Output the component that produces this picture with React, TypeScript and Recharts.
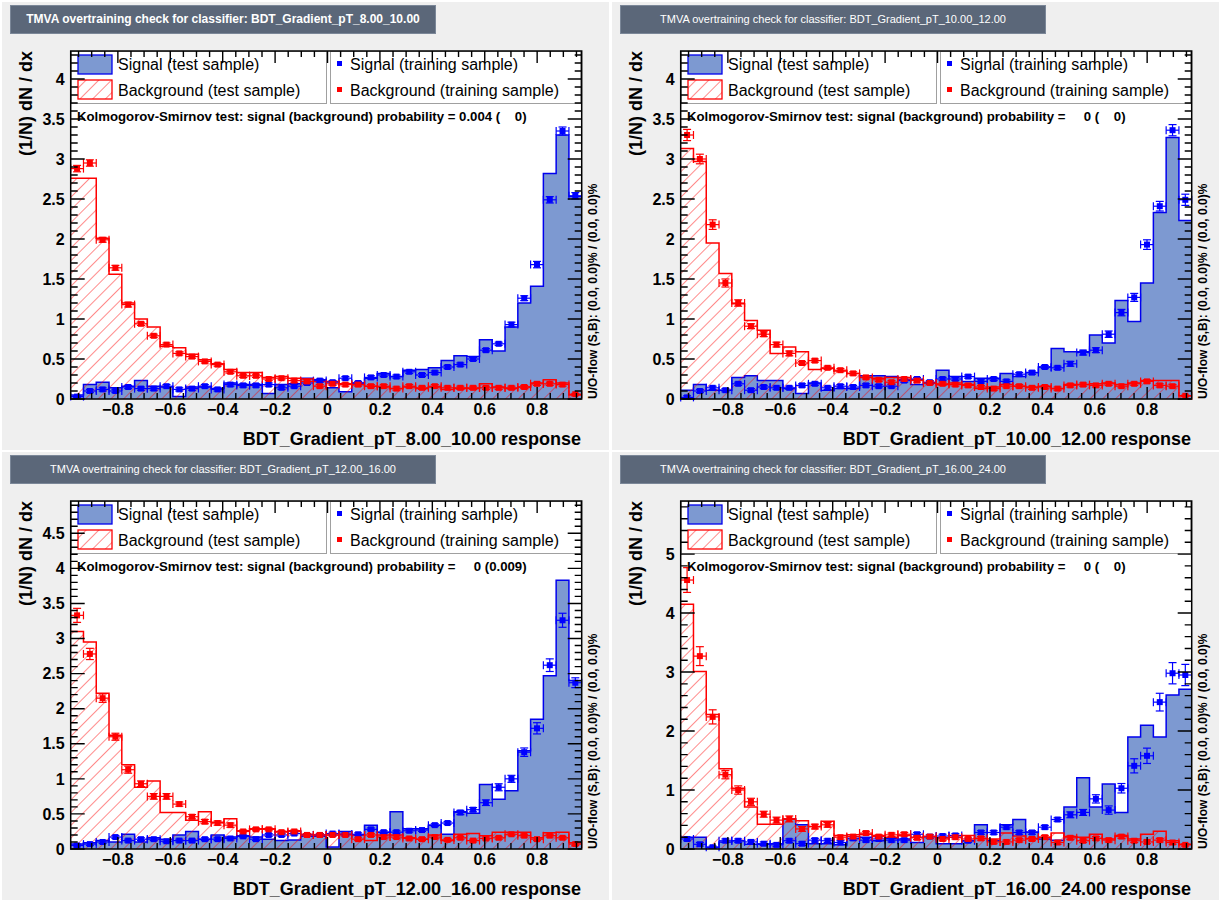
import { Area, ComposedChart, ErrorBar, Scatter, XAxis, YAxis } from "recharts";

const FONT = "'Liberation Sans', Arial, Helvetica, sans-serif";

// binning of the classifier response
const BIN_LO = -0.98;
const BIN_HI = 0.97;
const N_BINS = 40;

const X_MAJOR = [-0.8, -0.6, -0.4, -0.2, 0, 0.2, 0.4, 0.6, 0.8];
const X_MINOR_STEP = 0.05;

const names = ["BDT_Gradient_pT_8.00_10.00", "BDT_Gradient_pT_10.00_12.00", "BDT_Gradient_pT_12.00_16.00", "BDT_Gradient_pT_16.00_24.00"];
const ksProb = ["0.004 (    0)", "    0 (    0)", "    0 (0.009)", "    0 (    0)"];
const yMaxes = [4.35, 4.35, 4.96, 5.9];
const yMajorSteps = [0.5, 0.5, 0.5, 1];
const yMinorSteps = [0.1, 0.1, 0.1, 0.2];

// pT 8-10
const sigTest1 = [0.05, 0.18, 0.21, 0.14, 0.16, 0.23, 0.16, 0.15, 0.03, 0.15, 0.15, 0.13, 0.2, 0.18, 0.18, 0.07, 0.18, 0.19, 0.26, 0.24, 0.14, 0.09, 0.2, 0.26, 0.32, 0.28, 0.36, 0.37, 0.39, 0.48, 0.54, 0.53, 0.74, 0.6, 0.9, 1.2, 1.41, 2.82, 3.3, 2.53];
const bkgTest1 = [2.76, 2.76, 2.01, 1.56, 1.2, 1.0, 0.9, 0.66, 0.64, 0.56, 0.49, 0.44, 0.37, 0.33, 0.33, 0.27, 0.28, 0.26, 0.25, 0.22, 0.22, 0.19, 0.18, 0.16, 0.15, 0.13, 0.15, 0.13, 0.15, 0.12, 0.13, 0.13, 0.19, 0.15, 0.13, 0.15, 0.2, 0.24, 0.2, 0.05];
const sigTrain1 = [0.03, 0.1, 0.12, 0.1, 0.15, 0.13, 0.13, 0.16, 0.12, 0.13, 0.16, 0.12, 0.18, 0.17, 0.17, 0.18, 0.14, 0.16, 0.2, 0.23, 0.21, 0.26, 0.2, 0.27, 0.3, 0.28, 0.34, 0.3, 0.33, 0.4, 0.43, 0.5, 0.61, 0.69, 0.93, 1.26, 1.68, 2.49, 3.35, 2.54];
const bkgTrain1 = [2.88, 2.95, 1.99, 1.64, 1.18, 0.94, 0.79, 0.68, 0.57, 0.53, 0.47, 0.43, 0.34, 0.29, 0.29, 0.25, 0.26, 0.23, 0.22, 0.16, 0.19, 0.18, 0.18, 0.16, 0.16, 0.13, 0.16, 0.14, 0.16, 0.14, 0.14, 0.14, 0.14, 0.14, 0.14, 0.15, 0.19, 0.19, 0.18, 0.06];
const sigErr1 = [0.01, 0.02, 0.02, 0.02, 0.02, 0.02, 0.02, 0.02, 0.02, 0.02, 0.02, 0.02, 0.02, 0.02, 0.02, 0.02, 0.02, 0.02, 0.02, 0.02, 0.02, 0.02, 0.02, 0.02, 0.02, 0.02, 0.02, 0.02, 0.02, 0.02, 0.02, 0.02, 0.02, 0.02, 0.03, 0.03, 0.04, 0.04, 0.05, 0.04];
const bkgErr1 = [0.04, 0.04, 0.03, 0.03, 0.03, 0.02, 0.02, 0.02, 0.02, 0.02, 0.02, 0.02, 0.02, 0.02, 0.02, 0.02, 0.02, 0.02, 0.02, 0.02, 0.02, 0.02, 0.02, 0.02, 0.02, 0.02, 0.02, 0.02, 0.02, 0.02, 0.02, 0.02, 0.02, 0.02, 0.02, 0.02, 0.02, 0.02, 0.02, 0.01];

// pT 10-12
const sigTest2 = [0.11, 0.18, 0.11, 0.11, 0.27, 0.29, 0.23, 0.23, 0.13, 0.07, 0.2, 0.11, 0.13, 0.13, 0.29, 0.29, 0.28, 0.24, 0.18, 0.2, 0.36, 0.28, 0.22, 0.26, 0.26, 0.32, 0.28, 0.33, 0.4, 0.63, 0.59, 0.59, 0.8, 0.7, 1.23, 0.97, 1.45, 2.33, 3.27, 2.23];
const bkgTest2 = [3.13, 2.97, 1.95, 1.57, 1.19, 0.98, 0.86, 0.57, 0.65, 0.59, 0.37, 0.38, 0.35, 0.32, 0.27, 0.26, 0.27, 0.27, 0.24, 0.2, 0.18, 0.2, 0.18, 0.13, 0.15, 0.18, 0.16, 0.15, 0.16, 0.13, 0.18, 0.18, 0.19, 0.2, 0.18, 0.2, 0.23, 0.23, 0.23, 0.04];
const sigTrain2 = [0.02, 0.1, 0.14, 0.11, 0.19, 0.11, 0.15, 0.14, 0.14, 0.17, 0.19, 0.14, 0.16, 0.15, 0.17, 0.16, 0.16, 0.23, 0.25, 0.21, 0.25, 0.25, 0.28, 0.22, 0.25, 0.22, 0.31, 0.33, 0.4, 0.39, 0.44, 0.58, 0.61, 0.81, 1.08, 1.27, 1.93, 2.41, 3.36, 2.49];
const bkgTrain2 = [3.3, 3.0, 2.18, 1.45, 1.2, 0.91, 0.81, 0.68, 0.57, 0.45, 0.48, 0.39, 0.36, 0.32, 0.27, 0.24, 0.21, 0.25, 0.23, 0.2, 0.19, 0.18, 0.17, 0.15, 0.13, 0.16, 0.16, 0.14, 0.15, 0.13, 0.17, 0.18, 0.17, 0.19, 0.16, 0.19, 0.22, 0.17, 0.16, 0.04];
const sigErr2 = [0.02, 0.02, 0.02, 0.02, 0.02, 0.02, 0.02, 0.02, 0.02, 0.02, 0.02, 0.02, 0.02, 0.02, 0.02, 0.02, 0.02, 0.02, 0.02, 0.02, 0.02, 0.02, 0.02, 0.02, 0.02, 0.02, 0.02, 0.02, 0.02, 0.02, 0.03, 0.03, 0.03, 0.04, 0.04, 0.05, 0.06, 0.06, 0.07, 0.07];
const bkgErr2 = [0.07, 0.06, 0.06, 0.05, 0.04, 0.03, 0.03, 0.03, 0.03, 0.02, 0.02, 0.02, 0.02, 0.02, 0.02, 0.02, 0.02, 0.02, 0.02, 0.02, 0.02, 0.02, 0.02, 0.02, 0.02, 0.02, 0.02, 0.02, 0.02, 0.02, 0.02, 0.02, 0.02, 0.02, 0.02, 0.02, 0.02, 0.02, 0.02, 0.01];

// pT 12-16
const sigTest3 = [0.07, 0.09, 0.12, 0.1, 0.21, 0.1, 0.16, 0.14, 0.2, 0.25, 0.14, 0.2, 0.17, 0.19, 0.17, 0.14, 0.12, 0.13, 0.18, 0.18, 0.03, 0.25, 0.2, 0.34, 0.24, 0.53, 0.29, 0.29, 0.34, 0.21, 0.53, 0.51, 0.92, 0.71, 0.83, 1.4, 1.85, 2.47, 3.83, 2.4];
const bkgTest3 = [3.1, 2.95, 2.22, 1.62, 1.2, 0.88, 0.97, 0.52, 0.52, 0.41, 0.53, 0.38, 0.43, 0.26, 0.29, 0.29, 0.25, 0.26, 0.21, 0.2, 0.2, 0.21, 0.2, 0.12, 0.2, 0.2, 0.16, 0.14, 0.2, 0.12, 0.21, 0.22, 0.19, 0.24, 0.24, 0.24, 0.16, 0.23, 0.24, 0.09];
const sigTrain3 = [0.05, 0.07, 0.1, 0.17, 0.12, 0.14, 0.14, 0.11, 0.12, 0.12, 0.14, 0.14, 0.15, 0.18, 0.14, 0.2, 0.2, 0.22, 0.2, 0.2, 0.22, 0.21, 0.21, 0.28, 0.24, 0.24, 0.26, 0.27, 0.34, 0.37, 0.52, 0.56, 0.66, 0.88, 1.0, 1.38, 1.72, 2.62, 3.26, 2.37];
const bkgTrain3 = [3.33, 2.78, 2.15, 1.6, 1.13, 0.93, 0.75, 0.75, 0.64, 0.46, 0.39, 0.37, 0.34, 0.25, 0.28, 0.28, 0.24, 0.25, 0.2, 0.2, 0.2, 0.2, 0.14, 0.2, 0.17, 0.17, 0.15, 0.14, 0.17, 0.13, 0.16, 0.12, 0.15, 0.16, 0.21, 0.19, 0.14, 0.19, 0.16, 0.07];
const sigErr3 = [0.02, 0.02, 0.02, 0.02, 0.02, 0.02, 0.02, 0.02, 0.02, 0.02, 0.02, 0.02, 0.02, 0.02, 0.02, 0.02, 0.02, 0.02, 0.02, 0.02, 0.02, 0.02, 0.02, 0.02, 0.02, 0.02, 0.02, 0.02, 0.02, 0.02, 0.03, 0.03, 0.04, 0.05, 0.05, 0.06, 0.08, 0.09, 0.1, 0.07];
const bkgErr3 = [0.1, 0.08, 0.06, 0.05, 0.05, 0.04, 0.04, 0.04, 0.03, 0.03, 0.03, 0.03, 0.03, 0.02, 0.02, 0.02, 0.02, 0.02, 0.02, 0.02, 0.02, 0.02, 0.02, 0.02, 0.02, 0.02, 0.02, 0.02, 0.02, 0.02, 0.02, 0.02, 0.02, 0.02, 0.02, 0.02, 0.02, 0.02, 0.02, 0.02];

// pT 16-24
const sigTest4 = [0.2, 0.2, 0.03, 0.12, 0.14, 0.08, 0.08, 0.09, 0.51, 0.41, 0.09, 0.09, 0.07, 0.18, 0.2, 0.14, 0.18, 0.17, 0.11, 0.21, 0.09, 0.09, 0.14, 0.41, 0.14, 0.41, 0.5, 0.29, 0.17, 0.15, 0.71, 1.21, 0.71, 1.1, 0.62, 1.9, 2.1, 1.9, 2.61, 2.71];
const bkgTest4 = [4.15, 3.01, 2.28, 1.36, 1.03, 0.71, 0.42, 0.42, 0.51, 0.48, 0.38, 0.47, 0.23, 0.24, 0.25, 0.23, 0.2, 0.23, 0.2, 0.21, 0.19, 0.2, 0.23, 0.18, 0.17, 0.27, 0.22, 0.18, 0.2, 0.27, 0.21, 0.2, 0.25, 0.17, 0.23, 0.17, 0.25, 0.3, 0.14, 0.08];
const sigTrain4 = [0.17, 0.08, 0.03, 0.14, 0.14, 0.12, 0.09, 0.07, 0.14, 0.09, 0.15, 0.14, 0.11, 0.18, 0.15, 0.17, 0.15, 0.15, 0.25, 0.21, 0.22, 0.23, 0.14, 0.28, 0.28, 0.37, 0.28, 0.28, 0.37, 0.5, 0.58, 0.62, 0.85, 0.66, 1.03, 1.41, 1.58, 2.49, 2.98, 2.95];
const bkgTrain4 = [4.56, 3.27, 2.24, 1.26, 1.0, 0.8, 0.59, 0.49, 0.51, 0.34, 0.38, 0.41, 0.2, 0.21, 0.27, 0.21, 0.24, 0.25, 0.19, 0.21, 0.17, 0.2, 0.17, 0.18, 0.12, 0.12, 0.15, 0.17, 0.2, 0.11, 0.19, 0.14, 0.18, 0.15, 0.21, 0.14, 0.12, 0.15, 0.11, 0.07];
const sigErr4 = [0.03, 0.03, 0.02, 0.03, 0.03, 0.03, 0.03, 0.03, 0.03, 0.03, 0.03, 0.03, 0.03, 0.03, 0.03, 0.03, 0.03, 0.03, 0.03, 0.03, 0.03, 0.03, 0.03, 0.03, 0.03, 0.03, 0.03, 0.03, 0.03, 0.03, 0.05, 0.05, 0.07, 0.07, 0.08, 0.12, 0.13, 0.15, 0.18, 0.18];
const bkgErr4 = [0.21, 0.16, 0.12, 0.07, 0.07, 0.06, 0.05, 0.05, 0.05, 0.04, 0.04, 0.04, 0.03, 0.03, 0.03, 0.03, 0.03, 0.03, 0.03, 0.03, 0.03, 0.03, 0.03, 0.03, 0.03, 0.03, 0.03, 0.03, 0.03, 0.03, 0.03, 0.03, 0.03, 0.03, 0.03, 0.03, 0.03, 0.03, 0.03, 0.02];

const PANELS = [
  { sigTest: sigTest1, bkgTest: bkgTest1, sigTrain: sigTrain1, bkgTrain: bkgTrain1, sigErr: sigErr1, bkgErr: bkgErr1 },
  { sigTest: sigTest2, bkgTest: bkgTest2, sigTrain: sigTrain2, bkgTrain: bkgTrain2, sigErr: sigErr2, bkgErr: bkgErr2 },
  { sigTest: sigTest3, bkgTest: bkgTest3, sigTrain: sigTrain3, bkgTrain: bkgTrain3, sigErr: sigErr3, bkgErr: bkgErr3 },
  { sigTest: sigTest4, bkgTest: bkgTest4, sigTrain: sigTrain4, bkgTrain: bkgTrain4, sigErr: sigErr4, bkgErr: bkgErr4 }
];

const ORIGINS = [
  [0, 0],
  [610, 0],
  [0, 450],
  [610, 450]
];

// plot frame inside each 610x450 pad
const PLOT = { left: 70.7, right: 581.7, top: 51, bottom: 399 };
const Y_AXIS_W = 50;
const X_AXIS_H = 30;
const MARGIN = { top: PLOT.top, right: 610 - PLOT.right, bottom: 450 - PLOT.bottom - X_AXIS_H, left: PLOT.left - Y_AXIS_W };

const SIG_FILL = "#7d99d1";
const SIG_LINE = "#0000ee";
const BKG_LINE = "#ff0000";

function steps(lo: number, hi: number, step: number) {
  const out: number[] = [];
  for (let v = lo; v <= hi + 1e-9; v += step) out.push(Math.round(v * 1000) / 1000);
  return out;
}

const fmtX = (v: number) => (Math.abs(v) < 1e-9 ? "0" : v < 0 ? "\u2212" + Math.abs(v).toFixed(1) : v.toFixed(1));

const square = (color: string) => (p: any) => <rect x={p.cx - 3} y={p.cy - 3} width={6} height={6} fill={color} />;

const labelStyle = { fill: "#000", fontSize: 16, fontWeight: "bold", fontFamily: FONT };

// ROOT redraws the frame and its inward ticks on top of everything
function FrameTicks({ yMax, yMajor, yMinor }: { yMax: number; yMajor: number[]; yMinor: number[] }) {
  const px = (v: number) => PLOT.left + ((v - BIN_LO) / (BIN_HI - BIN_LO)) * (PLOT.right - PLOT.left);
  const py = (v: number) => PLOT.bottom - (v / yMax) * (PLOT.bottom - PLOT.top);
  const xMinor = steps(-0.95, 0.95, X_MINOR_STEP);
  const segs: string[] = [];
  xMinor.forEach((v) => {
    const len = X_MAJOR.some((m) => Math.abs(m - v) < 1e-6) ? 12 : 6;
    segs.push(`M${px(v)},${PLOT.bottom}v${-len}M${px(v)},${PLOT.top}v${len}`);
  });
  yMinor.forEach((v) => {
    const len = yMajor.some((m) => Math.abs(m - v) < 1e-6) ? 14 : 7;
    segs.push(`M${PLOT.left},${py(v)}h${len}M${PLOT.right},${py(v)}h${-len}`);
  });
  return (
    <g>
      <rect x={PLOT.left} y={PLOT.top} width={PLOT.right - PLOT.left} height={PLOT.bottom - PLOT.top} fill="none" stroke="#000" strokeWidth={1.5} />
      <path d={segs.join("")} stroke="#000" strokeWidth={1.4} fill="none" />
    </g>
  );
}

function Panel({ idx }: { idx: number }) {
  const cfg = PANELS[idx];
  const [ox, oy] = ORIGINS[idx];
  const width = (BIN_HI - BIN_LO) / N_BINS;
  const yMax = yMaxes[idx];
  const yMajor = steps(0, yMax, yMajorSteps[idx]);
  const yMinor = steps(0, yMax, yMinorSteps[idx]);

  const hist = [];
  for (let i = 0; i <= N_BINS; i++) {
    const k = Math.min(i, N_BINS - 1);
    hist.push({ x: BIN_LO + i * width, s: cfg.sigTest[k], b: cfg.bkgTest[k] });
  }
  const sigPts = cfg.sigTrain.map((y, i) => ({ x: BIN_LO + (i + 0.5) * width, y, ex: width / 2, ey: cfg.sigErr[i] }));
  const bkgPts = cfg.bkgTrain.map((y, i) => ({ x: BIN_LO + (i + 0.5) * width, y, ex: width / 2, ey: cfg.bkgErr[i] }));

  const hatch = `hatch${idx}`;

  return (
    <div style={{ position: "absolute", left: ox, top: oy, width: 610, height: 450 }}>
      <div style={{ position: "absolute", left: 2, top: 2, width: 607, height: 448, background: "#efefef" }} />
      <div style={{ position: "absolute", left: PLOT.left, top: PLOT.top, width: PLOT.right - PLOT.left, height: PLOT.bottom - PLOT.top, background: "#fff" }} />
      <div
        style={{
          position: "absolute",
          left: 10,
          top: 5,
          width: 424,
          height: 27,
          background: "#5b6779",
          border: "1px solid #7b8798",
          color: "#fff",
          fontFamily: FONT,
          fontSize: idx === 0 ? 12 : 11,
          fontWeight: idx === 0 ? "bold" : "normal",
          lineHeight: "27px",
          textAlign: "center"
        }}
      >
        TMVA overtraining check for classifier: {names[idx]}
      </div>

      <div style={{ position: "absolute", left: 0, top: 0 }}>
        <ComposedChart width={610} height={450} data={hist} margin={MARGIN}>
          <defs>
            <pattern id={hatch} patternUnits="userSpaceOnUse" width={9} height={9} patternTransform="rotate(45)">
              <line x1={0} y1={0} x2={0} y2={9} stroke={BKG_LINE} strokeWidth={0.9} />
            </pattern>
          </defs>
          <XAxis dataKey="x" type="number" domain={[BIN_LO, BIN_HI]} allowDataOverflow ticks={X_MAJOR} interval={0} tickFormatter={fmtX} tickLine={false} tickSize={0} tickMargin={5} height={X_AXIS_H} axisLine={false} tick={labelStyle} />
          <YAxis type="number" domain={[0, yMax]} allowDataOverflow ticks={yMajor} interval={0} width={Y_AXIS_W} tickLine={false} tickSize={0} tickMargin={6} axisLine={false} tick={labelStyle} />
          <Area type="stepAfter" dataKey="s" stroke={SIG_LINE} strokeWidth={1.5} fill={SIG_FILL} fillOpacity={1} isAnimationActive={false} />
          <Area type="stepAfter" dataKey="b" stroke={BKG_LINE} strokeWidth={1.5} fill={`url(#${hatch})`} fillOpacity={1} isAnimationActive={false} />
          <Scatter data={sigPts} dataKey="y" shape={square("#0000ff")} isAnimationActive={false}>
            <ErrorBar dataKey="ey" direction="y" width={4} stroke="#0000ff" strokeWidth={1.2} />
            <ErrorBar dataKey="ex" direction="x" width={4} stroke="#0000ff" strokeWidth={1.2} />
          </Scatter>
          <Scatter data={bkgPts} dataKey="y" shape={square("#ff0000")} isAnimationActive={false}>
            <ErrorBar dataKey="ey" direction="y" width={4} stroke="#ff0000" strokeWidth={1.2} />
            <ErrorBar dataKey="ex" direction="x" width={4} stroke="#ff0000" strokeWidth={1.2} />
          </Scatter>
        </ComposedChart>
      </div>

      <svg width={610} height={450} style={{ position: "absolute", left: 0, top: 0, pointerEvents: "none" }} fontFamily={FONT}>
        <defs>
          <pattern id={`leg${idx}`} patternUnits="userSpaceOnUse" width={9} height={9} patternTransform="rotate(45)">
            <line x1={0} y1={0} x2={0} y2={9} stroke={BKG_LINE} strokeWidth={0.9} />
          </pattern>
        </defs>
        <rect x={71.5} y={51.5} width={255} height={52} fill="#fff" stroke="#a0a0a0" />
        <rect x={78} y={55} width={34} height={19} fill={SIG_FILL} stroke={SIG_LINE} strokeWidth={1.3} />
        <rect x={78} y={80} width={34} height={19} fill="#fff" />
        <rect x={78} y={80} width={34} height={19} fill={`url(#leg${idx})`} stroke={BKG_LINE} strokeWidth={1.3} />
        <text x={118} y={70} fontSize={16}>Signal (test sample)</text>
        <text x={118} y={96} fontSize={16}>Background (test sample)</text>
        <rect x={330.5} y={51.5} width={250} height={52} fill="#fff" stroke="#a0a0a0" />
        <rect x={337} y={61} width={5} height={5} fill="#0000ff" />
        <rect x={337} y={87} width={5} height={5} fill="#ff0000" />
        <text x={350} y={70} fontSize={16}>Signal (training sample)</text>
        <text x={350} y={96} fontSize={16}>Background (training sample)</text>
        <text x={77} y={121} fontSize={13.2} fontWeight="bold" xmlSpace="preserve" style={{ whiteSpace: "pre" }}>
          {"Kolmogorov-Smirnov test: signal (background) probability = " + ksProb[idx]}
        </text>
        <FrameTicks yMax={yMax} yMajor={yMajor} yMinor={yMinor} />
        <text transform="translate(32,51) rotate(-90)" textAnchor="end" fontSize={18} fontWeight="bold">
          (1/N) dN / dx
        </text>
        <text x={581} y={445} textAnchor="end" fontSize={18} fontWeight="bold">
          {names[idx] + " response"}
        </text>
        <text transform="translate(597,399) rotate(-90)" fontSize={12} fontWeight="bold">
          U/O-flow (S,B): (0.0, 0.0)% / (0.0, 0.0)%
        </text>
      </svg>
    </div>
  );
}

export default function App() {
  return (
    <div style={{ position: "absolute", left: 0, top: 0, width: 1223, height: 904, background: "#fff" }}>
      {PANELS.map((_, i) => (
        <Panel key={i} idx={i} />
      ))}
    </div>
  );
}
